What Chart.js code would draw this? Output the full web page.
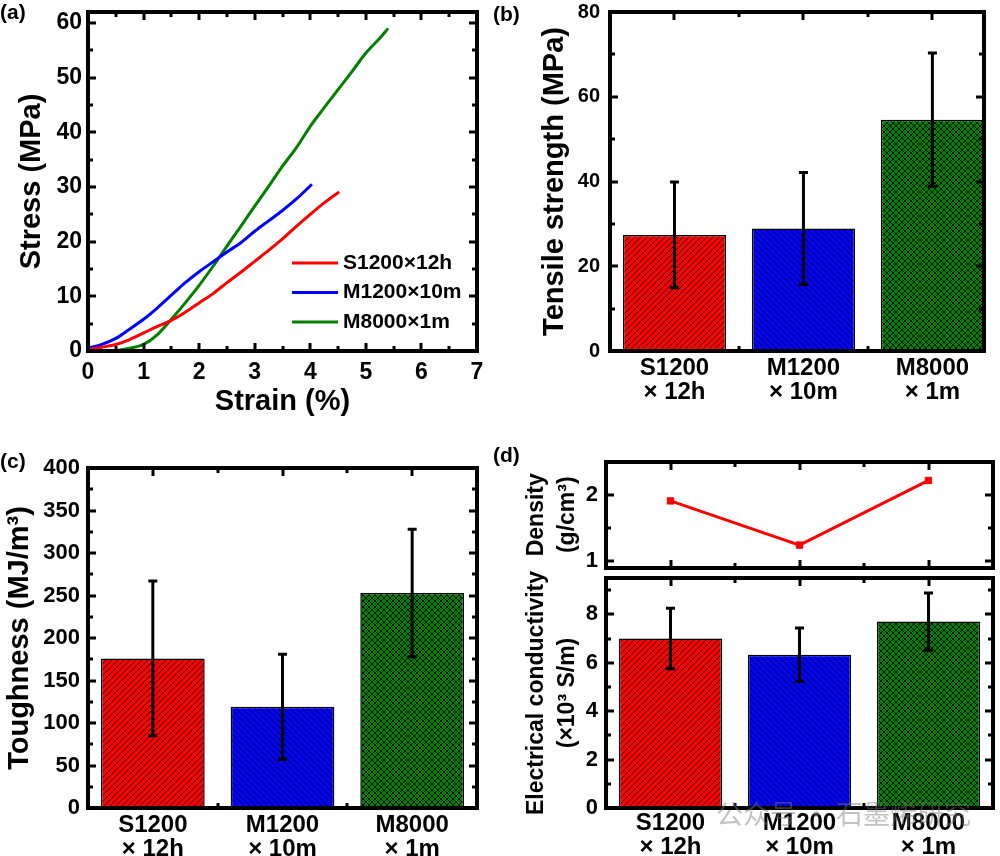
<!DOCTYPE html>
<html>
<head>
<meta charset="utf-8">
<script src="https://cdn.jsdelivr.net/npm/chart.js@4.4.1/dist/chart.umd.min.js"></script>
<style>
  body { margin: 0; background: #fff; width: 1000px; height: 856px; position: relative; overflow: hidden; }
  canvas { position: absolute; }
  .tag { position: absolute; font: bold 21px 'Liberation Sans', Arial, sans-serif; line-height: 24px; color: #000; }
  .wm { position: absolute; font: 27px 'Noto Sans CJK SC', sans-serif; color: rgba(120,120,120,0.45); white-space: nowrap; line-height: 32px; }
</style>
</head>
<body>
<canvas id="ca" width="500" height="430" style="left:0;top:0"></canvas>
<canvas id="cb" width="500" height="430" style="left:500px;top:0"></canvas>
<canvas id="cc" width="500" height="426" style="left:0;top:430px"></canvas>
<canvas id="cdt" width="500" height="143" style="left:500px;top:430px"></canvas>
<canvas id="cdb" width="500" height="286" style="left:500px;top:570px"></canvas>
<div class="tag" style="left:0;top:0">(a)</div>
<div class="tag" style="left:493px;top:2px">(b)</div>
<div class="tag" style="left:0;top:449px">(c)</div>
<div class="tag" style="left:493px;top:443px">(d)</div>
<div class="wm" style="left:716px;top:797px">公众号 · 石墨烯研究</div>
<script>
// (a) stress-strain curves
var strainS = [0, 0.25, 0.5, 0.75, 1, 1.25, 1.5, 1.75, 2, 2.25, 2.5, 2.75, 3, 3.25, 3.5, 3.75, 4, 4.25, 4.52];
var stressS = [0.3, 0.7, 1.2, 2.1, 3.3, 4.5, 5.6, 7.1, 8.8, 10.5, 12.5, 14.4, 16.4, 18.4, 20.5, 22.8, 25.0, 27.1, 29.1];
var strainM = [0, 0.25, 0.5, 0.75, 1, 1.25, 1.5, 1.75, 2, 2.25, 2.5, 2.75, 3, 3.25, 3.5, 3.75, 4.03];
var stressM = [0.5, 1.2, 2.3, 4.0, 5.8, 7.9, 10.2, 12.5, 14.5, 16.3, 18.1, 19.8, 21.9, 23.8, 25.7, 27.8, 30.5];
var strainG = [0, 0.5, 0.75, 1, 1.25, 1.5, 1.75, 2, 2.25, 2.5, 2.75, 3, 3.25, 3.5, 3.75, 4, 4.25, 4.5, 4.75, 5, 5.25, 5.4];
var stressG = [0, 0.1, 0.5, 1.2, 3.0, 5.8, 8.8, 12.0, 15.5, 19.2, 22.8, 26.5, 30.1, 33.8, 37.2, 41.1, 44.5, 47.8, 51.1, 54.5, 57.2, 59.0];
var curveNames = ['S1200×12h', 'M1200×10m', 'M8000×1m'];

// (b)-(d) sample groups
var groups = [['S1200', '× 12h'], ['M1200', '× 10m'], ['M8000', '× 1m']];
var tensile = [27.4, 28.9, 54.6];
var tensileErr = [12.5, 13.2, 15.7];
var tough = [176, 119, 253];
var toughErr = [91, 62, 75];
var density = [1.91, 1.24, 2.22];
var conduct = [7.0, 6.33, 7.7];
var conductErr = [1.25, 1.1, 1.18];

// tick labels
var aXTicks = [0, 1, 2, 3, 4, 5, 6, 7];
var aYTicks = [0, 10, 20, 30, 40, 50, 60];
var bYTicks = [0, 20, 40, 60, 80];
var cYTicks = [0, 50, 100, 150, 200, 250, 300, 350, 400];
var dTopTicks = [1, 2];
var dBotTicks = [0, 2, 4, 6, 8];
var groupTicks = [1, 2, 3];

var RED = '#ff0000', BLUE = '#0000ff', GREEN = '#008000';
var FONT = "'Liberation Sans', Arial, sans-serif";

Chart.defaults.font.family = FONT;
Chart.defaults.font.weight = 'bold';
Chart.defaults.color = '#000';
Chart.defaults.animation = false;
Chart.defaults.responsive = false;
Chart.defaults.plugins.legend.display = false;
Chart.defaults.plugins.tooltip.enabled = false;

function hatch(color, kind) {
  var c = document.createElement('canvas');
  c.width = c.height = 6;
  var g = c.getContext('2d');
  g.fillStyle = color;
  g.fillRect(0, 0, 6, 6);
  g.strokeStyle = '#000';
  g.lineWidth = 0.9;
  g.beginPath();
  if (kind !== '\\') { g.moveTo(-1, 7); g.lineTo(7, -1); g.moveTo(-1, 1); g.lineTo(1, -1); g.moveTo(5, 7); g.lineTo(7, 5); }
  if (kind !== '/') { g.moveTo(-1, -1); g.lineTo(7, 7); g.moveTo(5, -1); g.lineTo(7, 1); g.moveTo(-1, 5); g.lineTo(1, 7); }
  g.stroke();
  return g.createPattern(c, 'repeat');
}
var fills = [hatch(RED, '/'), hatch(BLUE, '\\'), hatch(GREEN, 'x')];

// fixed axis sizes, no label overhang padding
function fitW(w) { return function (s) { s.width = w; s.paddingTop = 0; s.paddingBottom = 0; }; }
function fitH(h) { return function (s) { s.height = h; s.paddingLeft = 0; s.paddingRight = 0; }; }
function setTicks(vals) { return function (s) { s.ticks = vals.map(function (v) { return { value: v }; }); }; }
function pts(xs, ys) { return ys.map(function (y, i) { return { x: xs[i], y: y }; }); }
function groupLabel(v) { return groups[v - 1]; }

// box with inward major/minor ticks on all four sides
var boxTicks = {
  id: 'boxTicks',
  afterDraw: function (chart, args, o) {
    var a = chart.chartArea, ctx = chart.ctx;
    var L = Math.round(a.left), R = Math.round(a.right), T = Math.round(a.top), B = Math.round(a.bottom);
    ctx.save();
    ctx.fillStyle = '#000';
    ['x', 'y'].forEach(function (k) {
      var s = chart.scales[k];
      var vals = s.ticks.map(function (t) { return t.value; });
      var step = vals[1] - vals[0];
      var marks = vals.map(function (v) { return [v, 8, true]; });
      for (var v = vals[0] - step / 2; v < s.max + 1e-9; v += step) {
        if (v > s.min + 1e-9) marks.push([v, 5, false]);
      }
      marks.forEach(function (m) {
        var p = Math.round(s.getPixelForValue(m[0]));
        if (k === 'x') {
          if (!(o.bars && m[2])) ctx.fillRect(p - 1.5, B - m[1], 3, m[1]);
          ctx.fillRect(p - 1.5, T, 3, m[1]);
        } else {
          ctx.fillRect(L, p - 1.5, m[1], 3);
          ctx.fillRect(R - m[1], p - 1.5, m[1], 3);
        }
      });
    });
    ctx.fillRect(L - 2, T - 2, R - L + 4, 4);
    ctx.fillRect(L - 2, B - 2, R - L + 4, 4);
    ctx.fillRect(L - 2, T - 2, 4, B - T + 4);
    ctx.fillRect(R - 2, T - 2, 4, B - T + 4);
    ctx.restore();
  }
};

var errorBars = {
  id: 'errorBars',
  afterDatasetsDraw: function (chart, args, o) {
    if (!o.errors) return;
    var ds = chart.data.datasets[0], x = chart.scales.x, y = chart.scales.y, ctx = chart.ctx;
    ctx.save();
    ctx.strokeStyle = '#000';
    ctx.lineWidth = 3;
    ds.data.forEach(function (p, i) {
      var px = x.getPixelForValue(p.x);
      var hi = y.getPixelForValue(p.y + o.errors[i]);
      var lo = y.getPixelForValue(p.y - o.errors[i]);
      ctx.beginPath();
      ctx.moveTo(px, hi); ctx.lineTo(px, lo);
      ctx.moveTo(px - 4.5, hi); ctx.lineTo(px + 4.5, hi);
      ctx.moveTo(px - 4.5, lo); ctx.lineTo(px + 4.5, lo);
      ctx.stroke();
    });
    ctx.restore();
  }
};

var lineLegend = {
  id: 'lineLegend',
  afterDraw: function (chart, args, o) {
    if (!o.show) return;
    var ctx = chart.ctx;
    ctx.save();
    ctx.font = 'bold 21px ' + FONT;
    ctx.textBaseline = 'middle';
    chart.data.datasets.forEach(function (ds, i) {
      var y = o.y + i * o.gap;
      ctx.strokeStyle = ds.borderColor;
      ctx.lineWidth = 3;
      ctx.beginPath(); ctx.moveTo(o.x, y); ctx.lineTo(o.x + 46, y); ctx.stroke();
      ctx.fillStyle = '#000';
      ctx.fillText(ds.label, o.x + 51, y);
    });
    ctx.restore();
  }
};

var noGrid = { display: false, drawTicks: false };
var noBorder = { display: false };

// (a) stress-strain
new Chart(document.getElementById('ca'), {
  type: 'line',
  data: {
    datasets: [
      { label: curveNames[0], data: pts(strainS, stressS), borderColor: RED },
      { label: curveNames[1], data: pts(strainM, stressM), borderColor: BLUE },
      { label: curveNames[2], data: pts(strainG, stressG), borderColor: GREEN }
    ]
  },
  options: {
    layout: { padding: { top: 12, right: 23 } },
    elements: { point: { radius: 0 }, line: { borderWidth: 3, cubicInterpolationMode: 'monotone' } },
    scales: {
      x: {
        type: 'linear', min: 0, max: 7, afterBuildTicks: setTicks(aXTicks), afterFit: fitH(79),
        grid: noGrid, border: noBorder,
        ticks: { font: { size: 23 }, padding: 8 },
        title: { display: true, text: 'Strain (%)', font: { size: 29, lineHeight: 1 }, padding: { top: 0, bottom: 14 } }
      },
      y: {
        min: 0, max: 62, afterBuildTicks: setTicks(aYTicks), afterFit: fitW(88),
        grid: noGrid, border: noBorder,
        ticks: { font: { size: 23 }, padding: 6 },
        title: { display: true, text: 'Stress (MPa)', font: { size: 29, lineHeight: 1 }, padding: { top: 17, bottom: 0 } }
      }
    },
    plugins: { boxTicks: { bars: false }, lineLegend: { show: true, x: 292, y: 263, gap: 29.5 } }
  },
  plugins: [boxTicks, lineLegend]
});

function barChart(id, vals, errs, yTicks, cfg) {
  return new Chart(document.getElementById(id), {
    type: 'bar',
    data: {
      datasets: [{
        data: pts(groupTicks, vals),
        backgroundColor: fills,
        borderColor: '#000',
        borderWidth: 1.5,
        barPercentage: 0.8,
        categoryPercentage: 1
      }]
    },
    options: {
      layout: { padding: { top: cfg.top, right: cfg.right } },
      scales: {
        x: {
          type: 'linear', offset: false, min: 0.5, max: cfg.xMax, afterBuildTicks: setTicks(groupTicks), afterFit: fitH(cfg.xH),
          grid: { display: false, drawTicks: false, offset: false }, border: noBorder,
          ticks: { font: { size: 24, lineHeight: 0.97 }, padding: cfg.xPad, callback: groupLabel }
        },
        y: {
          min: cfg.yMin, max: cfg.yMax, afterBuildTicks: setTicks(yTicks), afterFit: fitW(cfg.yW),
          grid: noGrid, border: noBorder,
          ticks: { font: { size: cfg.tickSize }, padding: cfg.yPad },
          title: { display: true, text: cfg.title, font: { size: cfg.titleSize, lineHeight: cfg.titleLH }, padding: { top: cfg.titlePad, bottom: 0 } }
        }
      },
      plugins: { boxTicks: { bars: true }, errorBars: { errors: errs } }
    },
    plugins: [boxTicks, errorBars]
  });
}

// (b) tensile strength
barChart('cb', tensile, tensileErr, bYTicks, {
  top: 12, right: 16, xMax: 3.4, xH: 79, xPad: 6, yMin: 0, yMax: 80, yW: 110, yPad: 10,
  tickSize: 20, title: 'Tensile strength (MPa)', titleSize: 29, titleLH: 1, titlePad: 40
});

// (c) toughness
barChart('cc', tough, toughErr, cYTicks, {
  top: 38, right: 23, xMax: 3.5, xH: 48, xPad: 6, yMin: 0, yMax: 400, yW: 88, yPad: 8,
  tickSize: 22, title: 'Toughness (MJ/m³)', titleSize: 29, titleLH: 1, titlePad: 5
});

// (d) bottom: electrical conductivity
barChart('cdb', conduct, conductErr, dBotTicks, {
  top: 8, right: 7, xMax: 3.5, xH: 48, xPad: 4, yMin: 0, yMax: 9.5, yW: 106, yPad: 8,
  tickSize: 22, title: ['Electrical conductivity', '(×10³ S/m)'], titleSize: 23, titleLH: 1.35, titlePad: 21
});

// (d) top: density
new Chart(document.getElementById('cdt'), {
  type: 'line',
  data: {
    datasets: [{
      data: pts(groupTicks, density),
      borderColor: RED, borderWidth: 3,
      pointStyle: 'rect', pointRadius: 4.5, pointBackgroundColor: RED, pointBorderColor: RED, pointBorderWidth: 1
    }]
  },
  options: {
    layout: { padding: { top: 32, right: 7 } },
    scales: {
      x: {
        type: 'linear', min: 0.5, max: 3.5, afterBuildTicks: setTicks(groupTicks), afterFit: fitH(2),
        grid: noGrid, border: noBorder, ticks: { display: false }
      },
      y: {
        min: 0.9, max: 2.5, afterBuildTicks: setTicks(dTopTicks), afterFit: fitW(106),
        grid: noGrid, border: noBorder,
        ticks: { font: { size: 22 }, padding: 8 },
        title: { display: true, text: ['Density', '(g/cm³)'], font: { size: 23, lineHeight: 1.35 }, padding: { top: 21, bottom: 0 } }
      }
    },
    plugins: { boxTicks: { bars: false } }
  },
  plugins: [boxTicks]
});
</script>
</body>
</html>
